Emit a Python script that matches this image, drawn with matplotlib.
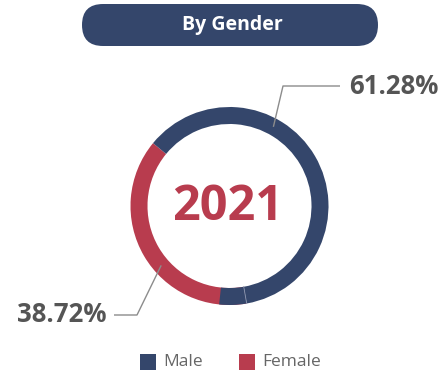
import numpy as np
import matplotlib
matplotlib.use("Agg")
import matplotlib.pyplot as plt
from matplotlib.patches import FancyBboxPatch, Wedge, Rectangle

# ---- data ----
title = "By Gender"
year_label = "2021"
categories = ["Female", "Male"]
shares = [38.72, 61.28]
legend_order = ["Male", "Female"]

NAVY = "#34466b"
RED = "#b83c4e"
GREY_TXT = "#555555"
LEGEND_TXT = "#666666"
LINE = "#8c8c8c"
colors = {"Male": NAVY, "Female": RED}

plt.rcParams["font.family"] = ["Open Sans", "DejaVu Sans"]

W, H = 442, 373
fig = plt.figure(figsize=(W / 100, H / 100), dpi=100)
ax = fig.add_axes([0, 0, 1, 1])

def Y(py):
    # pixel row (from top) -> data y (from bottom)
    return H - py

cx, cy = 229.5, Y(206)
R, RING = 99, 17
start = 140.6

ax.pie(shares, colors=[colors[c] for c in categories], startangle=start,
       counterclock=True, center=(cx, cy), radius=R,
       wedgeprops=dict(width=RING, linewidth=0, antialiased=True))

# navy tail laid over the end of the female arc, with its faint seam
female_end = start + shares[0] / 100 * 360
ax.add_patch(Wedge((cx, cy), R, female_end - 16, female_end, width=RING,
                   facecolor=NAVY, linewidth=0, zorder=3))
a = np.deg2rad(female_end)
ax.plot([cx + (R - RING) * np.cos(a), cx + R * np.cos(a)],
        [cy + (R - RING) * np.sin(a), cy + R * np.sin(a)],
        color="#8a97b0", lw=0.6, zorder=4)

ax.set_xlim(0, W)
ax.set_ylim(0, H)
ax.set_aspect("equal")
ax.axis("off")

# title pill
pill = FancyBboxPatch((82, Y(46)), 296, 42,
                      boxstyle="round,pad=0,rounding_size=21",
                      facecolor=NAVY, edgecolor="none", zorder=5)
ax.add_patch(pill)
ax.text(232, Y(25), title, color="white", fontsize=14, fontweight="bold",
        ha="center", va="center", zorder=6)

# centre year
ax.text(cx - 2, cy - 1, year_label, color=RED, fontsize=35, fontweight="bold",
        ha="center", va="center")

# leader lines and value labels
def leader(angle_deg, elbow, end, text, text_x, ha):
    t = np.deg2rad(angle_deg)
    rr = R - RING / 2
    p0 = (cx + rr * np.cos(t), cy + rr * np.sin(t))
    ax.plot([p0[0], elbow[0], end[0]], [p0[1], elbow[1], end[1]],
            color=LINE, lw=1.0, zorder=6, solid_capstyle="butt")
    ax.text(text_x, elbow[1], text, color=GREY_TXT, fontsize=18.5,
            fontweight="bold", ha=ha, va="center")

male_val, female_val = shares[1], shares[0]
leader(61, (283, Y(86)), (340, Y(86)), f"{male_val:.2f}%", 349, "left")
leader(221, (137, Y(315)), (114, Y(315)), f"{female_val:.2f}%", 106, "right")

# legend
lx = [140, 239]
for x0, name in zip(lx, legend_order):
    ax.add_patch(Rectangle((x0, Y(370)), 16, 16, facecolor=colors[name],
                           edgecolor="none"))
    ax.text(x0 + 23, Y(362), name, color=LEGEND_TXT, fontsize=12.5,
            ha="left", va="center")

fig.savefig("out.png", dpi=100, facecolor="white")
